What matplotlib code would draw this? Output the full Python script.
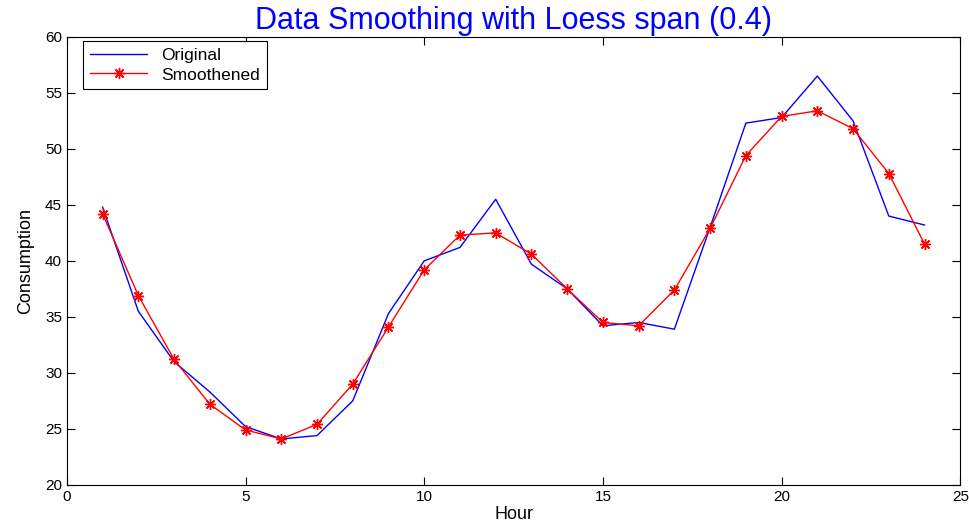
import matplotlib.pyplot as plt
import numpy as np

# ── Data ───────────────────────────────────────────────
hours = list(range(1, 25))
original = [44.8, 35.5, 31.0, 28.3, 25.2, 24.1, 24.4, 27.5, 35.3, 40.0, 41.2, 45.5,
            39.7, 37.5, 34.2, 34.5, 33.9, 43.0, 52.3, 52.8, 56.5, 52.5, 44.0, 43.2]
smoothed = [44.2, 36.9, 31.2, 27.2, 24.9, 24.1, 25.4, 29.0, 34.1, 39.2, 42.3, 42.5,
            40.6, 37.5, 34.5, 34.2, 37.4, 42.9, 49.4, 52.9, 53.4, 51.8, 47.8, 41.5]
x_ticks = [0, 5, 10, 15, 20, 25]
y_ticks = [20, 25, 30, 35, 40, 45, 50, 55, 60]

plt.rcParams['font.family'] = ['Liberation Sans', 'DejaVu Sans']

fig = plt.figure(figsize=(9.69, 5.27), dpi=100)
ax = fig.add_axes([0.069, 0.08, 0.922, 0.85])

ax.plot(hours, original, color="blue", linewidth=1, label="Original")
# MATLAB style asterisk marker (8 spokes)
ax.plot(hours, smoothed, color="red", linewidth=1, marker=(8, 2, 0), markersize=8,
        markeredgewidth=1.0, label="Smoothened")

ax.set_xlim(0, 25)
ax.set_ylim(20, 60)
ax.set_xticks(x_ticks)
ax.set_yticks(y_ticks)
ax.tick_params(direction="in", top=True, right=True, length=6, labelsize=11)

ax.set_xlabel("Hour", fontsize=13, labelpad=2)
ax.set_ylabel("Consumption", fontsize=13, labelpad=8)
ax.set_title("Data Smoothing with Loess span (0.4)", color="blue", fontsize=22, pad=6)

leg = ax.legend(loc="upper left", bbox_to_anchor=(0.018, 0.991), borderaxespad=0,
                fontsize=12.5, fancybox=False, framealpha=1, edgecolor="black",
                handlelength=3.3, labelspacing=0.25, borderpad=0.4)
leg.get_frame().set_linewidth(0.8)

fig.savefig("out.png", dpi=100)
